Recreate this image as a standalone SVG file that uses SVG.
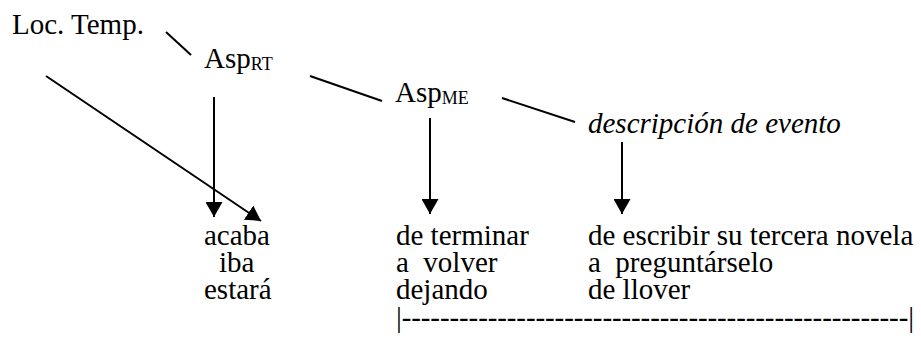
<svg xmlns="http://www.w3.org/2000/svg" width="921" height="338" viewBox="0 0 921 338">
<style>
.sub{font-size:18px}
.it{font-style:italic}
.ln{stroke:#000;stroke-width:2;fill:none}
</style>
<defs>
<marker id="ah" markerUnits="userSpaceOnUse" markerWidth="16" markerHeight="17" refX="15" refY="8.5" orient="auto">
<path d="M0,0 L15,8.5 L0,17 Z" fill="#000"/>
</marker>
</defs>
<rect width="921" height="338" fill="#fff"/>
<g id="connectors">
<line class="ln" x1="166" y1="32" x2="191" y2="55"/>
<line class="ln" x1="310" y1="76" x2="382" y2="101"/>
<line class="ln" x1="502" y1="98" x2="575" y2="122"/>
<line class="ln" x1="214" y1="97" x2="214" y2="217" marker-end="url(#ah)"/>
<line class="ln" x1="46" y1="76" x2="261" y2="221" marker-end="url(#ah)"/>
<line class="ln" x1="430" y1="118" x2="430" y2="214" marker-end="url(#ah)"/>
<line class="ln" x1="622" y1="142" x2="622" y2="214" marker-end="url(#ah)"/>
</g>
<g font-family="Liberation Serif, Times New Roman, serif" font-size="29" fill="#000">
<g id="loc-temp"><text x="12" y="34">Loc. Temp.</text></g>
<g id="asp-rt"><text x="204" y="68">Asp<tspan class="sub" dy="2">RT</tspan></text></g>
<g id="asp-me"><text x="395" y="102">Asp<tspan class="sub" dy="2">ME</tspan></text></g>
<g id="descripcion"><text class="it" x="588" y="133">descripción de evento</text></g>
<g id="col1">
<text><tspan x="204" y="245">acaba</tspan><tspan x="219" y="272">iba</tspan><tspan x="204" y="299">estará</tspan></text>
</g>
<g id="col2">
<text xml:space="preserve"><tspan x="396" y="245">de terminar</tspan><tspan x="396" y="272">a  volver</tspan><tspan x="396" y="299">dejando</tspan></text>
</g>
<g id="col3">
<text xml:space="preserve"><tspan x="588" y="245">de escribir su tercera novela</tspan><tspan x="588" y="272">a  preguntárselo</tspan><tspan x="588" y="299">de llover</tspan></text>
</g>
<g id="span">
<text x="396" y="327" textLength="518" lengthAdjust="spacing">|-----------------------------------------------------|</text>
</g>
</g>
</svg>
